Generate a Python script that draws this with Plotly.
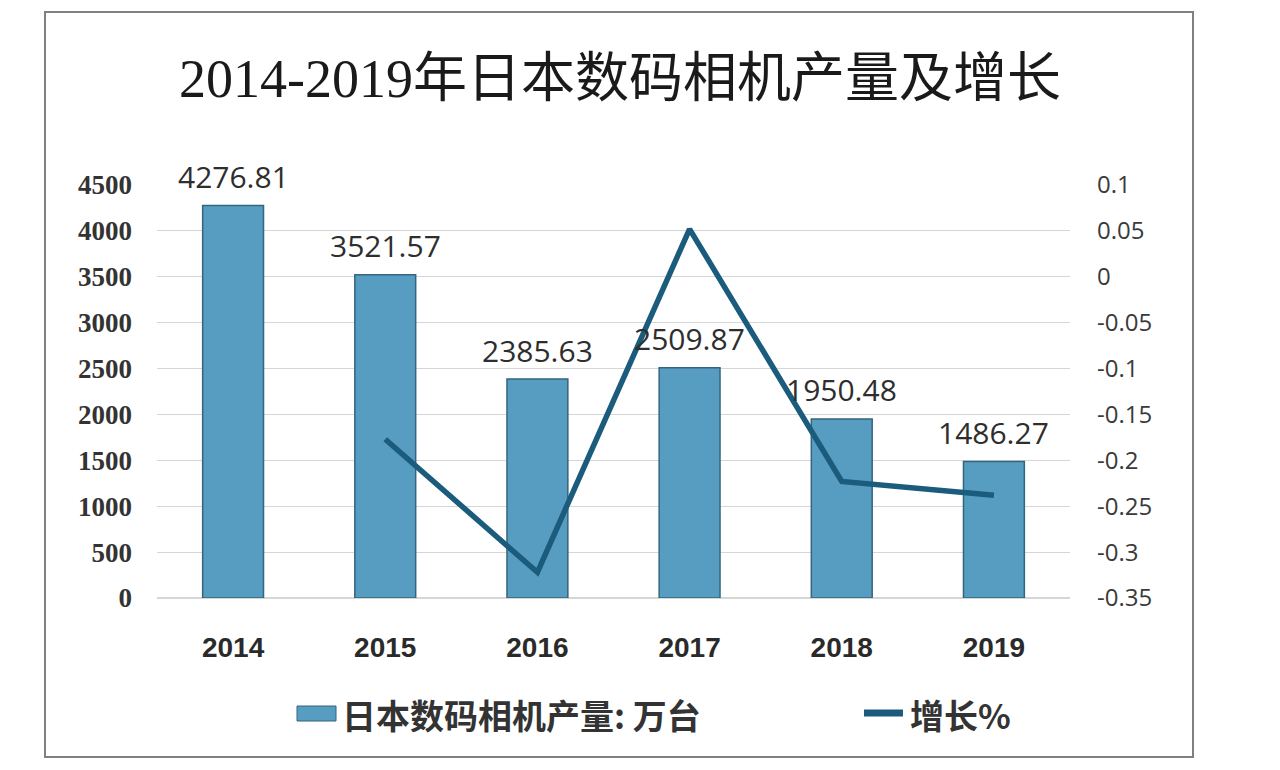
import plotly.graph_objects as go

# ---- data ----
years = ["2014", "2015", "2016", "2017", "2018", "2019"]
production = [4276.81, 3521.57, 2385.63, 2509.87, 1950.48, 1486.27]   # 万台
growth = [None, -0.177, -0.322, 0.052, -0.223, -0.238]                 # 增长%
left_ticks = [0, 500, 1000, 1500, 2000, 2500, 3000, 3500, 4000, 4500]
right_ticks = [0.1, 0.05, 0, -0.05, -0.1, -0.15, -0.2, -0.25, -0.3, -0.35]
right_tick_labels = ["0.1", "0.05", "0", "-0.05", "-0.1", "-0.15", "-0.2", "-0.25", "-0.3", "-0.35"]

title_text = "2014-2019年日本数码相机产量及增长"
bar_name = "日本数码相机产量: 万台"
line_name = "增长%"

BAR_COLOR = "#579cc1"
BAR_EDGE = "#35657e"
LINE_COLOR = "#1b5b7c"

# plot area in pixels (for converting legend/frame positions)
L, R, T, B = 157, 1070, 185, 598
W, H = R - L, B - T
def px(x): return (x - L) / W
def py(y): return (B - y) / H

fig = go.Figure()
fig.add_trace(go.Bar(
    x=years, y=production, name=bar_name,
    marker=dict(color=BAR_COLOR, line=dict(color=BAR_EDGE, width=1.5)),
    width=0.4, yaxis="y", showlegend=False,
))
fig.add_trace(go.Scatter(
    x=years, y=growth, name=line_name, mode="lines",
    line=dict(color=LINE_COLOR, width=5.5), yaxis="y2",
    connectgaps=False, showlegend=False,
))

# value labels above bars (x given as category index)
for i, v in enumerate(production):
    fig.add_annotation(x=i, y=v, xref="x", yref="y", text=f"{v:.2f}",
                       showarrow=False, yshift=29,
                       font=dict(family="Open Sans, Noto Sans", size=30, color="#2e2e2e"))

# outer frame
fig.add_shape(type="rect", xref="paper", yref="paper",
              x0=px(45), x1=px(1193), y0=py(757), y1=py(12),
              line=dict(color="#808080", width=2), layer="below")

# manual legend
fig.add_shape(type="rect", xref="paper", yref="paper",
              x0=px(297), x1=px(336), y0=py(721), y1=py(706),
              fillcolor=BAR_COLOR, line=dict(color=BAR_EDGE, width=1))
fig.add_annotation(xref="paper", yref="paper", x=px(340), y=py(714),
                   xanchor="left", yanchor="middle", showarrow=False,
                   text=f"<b>{bar_name}</b>",
                   font=dict(family="Noto Sans CJK SC", size=34, color="#333333"))
fig.add_shape(type="line", xref="paper", yref="paper",
              x0=px(864), x1=px(903), y0=py(713), y1=py(713),
              line=dict(color=LINE_COLOR, width=7))
fig.add_annotation(xref="paper", yref="paper", x=px(908), y=py(714),
                   xanchor="left", yanchor="middle", showarrow=False,
                   text=f"<b>{line_name}</b>",
                   font=dict(family="Noto Sans CJK SC", size=34, color="#333333"))

fig.update_layout(
    width=1280, height=770,
    margin=dict(l=L, r=1280 - R, t=T, b=770 - B),
    paper_bgcolor="white", plot_bgcolor="white",
    title=dict(text=title_text, x=620 / 1280, xanchor="center",
               y=1 - 78 / 770, yanchor="middle",
               font=dict(family="Liberation Serif, Noto Sans CJK SC", size=54, color="#1a1a1a")),
    xaxis=dict(type="category", range=[-0.5, len(years) - 0.5],
               showgrid=False, showline=False, ticks="",
               ticklabelstandoff=30,
               tickfont=dict(family="Liberation Sans", size=28, color="#2a2a2a", weight="bold")),
    yaxis=dict(range=[0, 4500], tickvals=left_ticks, showgrid=True,
               gridcolor="#d6d6d6", gridwidth=1, zeroline=True,
               zerolinecolor="#d6d6d6", showline=False, ticks="",
               ticklabelstandoff=24,
               tickfont=dict(family="Liberation Serif", size=27, color="#333333", weight="bold")),
    yaxis2=dict(range=[-0.35, 0.1], tickvals=right_ticks, ticktext=right_tick_labels,
                overlaying="y", side="right", showgrid=False, zeroline=False,
                showline=False, ticks="", ticklabelstandoff=26,
                tickfont=dict(family="Open Sans", size=24, color="#3a3a3a")),
    bargap=0.6,
)

fig.write_html("out.html")
